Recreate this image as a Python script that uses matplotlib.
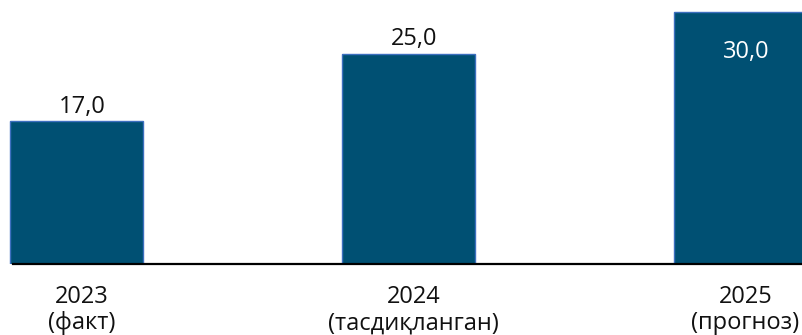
import matplotlib
matplotlib.use("Agg")
import matplotlib.pyplot as plt

years = ["2023", "2024", "2025"]
notes = ["(факт)", "(тасдиқланган)", "(прогноз)"]
values = [17.0, 25.0, 30.0]

BAR = "#005073"
EDGE = "#3d6fbf"

plt.rcParams["font.family"] = ["Open Sans", "DejaVu Sans"]

fig = plt.figure(figsize=(8.02, 3.35), dpi=100)
ax = fig.add_axes([0, 71 / 335, 1, 264 / 335])
x = list(range(len(values)))
bars = ax.bar(x, values, width=0.4, color=BAR, edgecolor=EDGE, linewidth=1.0, zorder=2)

ax.set_xlim(-76.5 / 332, (802 - 76.5) / 332)
ax.set_ylim(0, 264 / 8.4)
ax.axhline(0, xmin=13 / 802, xmax=1, color="black", linewidth=1.6, zorder=3, clip_on=False)

for i, v in enumerate(values):
    label = f"{v:.1f}".replace(".", ",")
    if i == len(values) - 1:
        ax.annotate(label, (i, v), xytext=(4.3, -28.8), textcoords="offset points",
                    ha="center", va="center", fontsize=17, color="white")
    else:
        ax.annotate(label, (i, v), xytext=(4.3, 10.5), textcoords="offset points",
                    ha="center", va="center", fontsize=17, color="#111111")

for i, (y, n) in enumerate(zip(years, notes)):
    ax.annotate(y, (i, 0), xycoords=("data", "axes fraction"), xytext=(3.6, -23.8),
                textcoords="offset points", ha="center", va="center", fontsize=17,
                color="#111111", annotation_clip=False)
    ax.annotate(n, (i, 0), xycoords=("data", "axes fraction"), xytext=(3.6, -42.5),
                textcoords="offset points", ha="center", va="center", fontsize=17,
                color="#111111", annotation_clip=False)

for s in ax.spines.values():
    s.set_visible(False)
ax.set_xticks([])
ax.set_yticks([])

fig.savefig("out.png", dpi=100)
